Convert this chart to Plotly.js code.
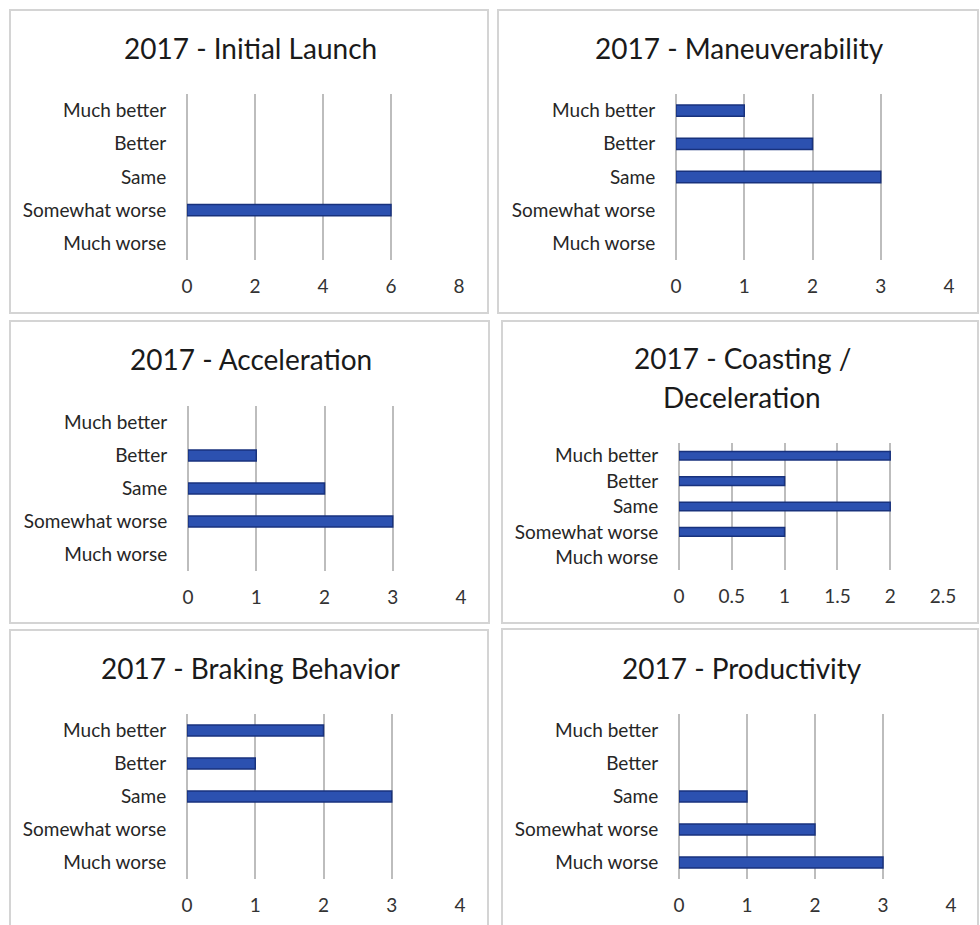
<!DOCTYPE html>
<html>
<head>
<meta charset="utf-8">
<script src="https://cdn.plot.ly/plotly-3.0.1.min.js"></script>
<style>
html,body{margin:0;padding:0;background:#fff;}
#chart{width:980px;height:925px;}
</style>
</head>
<body>
<div id="chart"></div>
<script>
// ---- data ----
const categories = ["Much better", "Better", "Same", "Somewhat worse", "Much worse"];
const initialLaunch   = [0, 0, 0, 6, 0];
const maneuverability = [1, 2, 3, 0, 0];
const acceleration    = [0, 1, 2, 3, 0];
const coasting        = [2, 1, 2, 1, 0];
const braking         = [2, 1, 3, 0, 0];
const productivity    = [0, 0, 1, 2, 3];
const titles = [
  "2017 - Initial Launch",
  "2017 - Maneuverability",
  "2017 - Acceleration",
  ["2017 - Coasting /", "Deceleration"],
  "2017 - Braking Behavior",
  "2017 - Productivity"
];
const seriesList = [initialLaunch, maneuverability, acceleration, coasting, braking, productivity];
const axisMax = [8, 4, 4, 2.5, 4, 4];
const axisStep = [2, 1, 1, 0.5, 1, 1];

// ---- layout geometry (pixels) ----
const W = 980, H = 925;
const plots = [
  {x:[187,459], y:[94,260],  t:[250,48]},
  {x:[676,949], y:[94,260],  t:[739,48]},
  {x:[188,461], y:[406,571], t:[251,359]},
  {x:[679,943], y:[443,570], t:[742,358]},
  {x:[187,460], y:[714,879], t:[250,668]},
  {x:[679,951], y:[714,879], t:[742,668]}
];
const boxes = [
  [10,488,10,313],[498,978,10,313],
  [10,489,321,623],[502,978,321,623],
  [10,488,630,940],[502,978,629,940]
];
const px = v => v / W;
const py = v => 1 - v / H;

const FONT = "Lato, 'Open Sans', sans-serif";
const data = [];
const layout = {
  width: W, height: H,
  margin: {l:0, r:0, t:0, b:0},
  paper_bgcolor: "#ffffff",
  plot_bgcolor: "rgba(0,0,0,0)",
  showlegend: false,
  font: {family: FONT, color: "#262626"},
  shapes: [],
  annotations: []
};

boxes.forEach(b => {
  layout.shapes.push({
    type: "rect", xref: "paper", yref: "paper",
    x0: px(b[0]), x1: px(b[1]), y0: py(b[2]), y1: py(b[3]),
    line: {color: "#d4d4d4", width: 2}, fillcolor: "rgba(0,0,0,0)", layer: "below"
  });
});

plots.forEach((p, i) => {
  const n = i === 0 ? "" : String(i + 1);
  const vals = seriesList[i];
  data.push({
    type: "bar", orientation: "h",
    y: categories,
    x: vals.map(v => v === 0 ? null : v),
    xaxis: "x" + n, yaxis: "y" + n,
    width: 0.34,
    marker: {color: "#2c51b0", line: {color: "#18327d", width: 1.5}},
    hoverinfo: "x+y"
  });
  layout["xaxis" + n] = {
    domain: [px(p.x[0]), px(p.x[1])],
    anchor: "y" + n,
    range: [0, axisMax[i]],
    dtick: axisStep[i], tick0: 0,
    showgrid: true, gridcolor: "#bdbdbd", gridwidth: 2,
    zeroline: true, zerolinecolor: "#bdbdbd", zerolinewidth: 2,
    showline: false,
    ticks: "outside", ticklen: 9, tickcolor: "rgba(0,0,0,0)",
    tickfont: {family: FONT, size: 19, color: "#333333"},
    fixedrange: true
  };
  layout["yaxis" + n] = {
    domain: [py(p.y[1]), py(p.y[0])],
    anchor: "x" + n,
    type: "category",
    categoryorder: "array", categoryarray: categories,
    autorange: "reversed",
    showgrid: false, zeroline: false, showline: false,
    ticks: "outside", ticklen: 16, tickcolor: "rgba(0,0,0,0)",
    tickfont: {family: FONT, size: 19, color: "#262626"},
    fixedrange: true
  };
  const t = titles[i];
  const lines = Array.isArray(t) ? t : [t];
  lines.forEach((ln, k) => {
    layout.annotations.push({
      xref: "paper", yref: "paper",
      x: px(p.t[0]), y: py(p.t[1] + k * 39),
      xanchor: "center", yanchor: "middle",
      text: ln, showarrow: false,
      font: {family: FONT, size: 28, color: "#1a1a1a"}
    });
  });
});

Plotly.newPlot("chart", data, layout, {staticPlot: true, displayModeBar: false});
</script>
</body>
</html>
